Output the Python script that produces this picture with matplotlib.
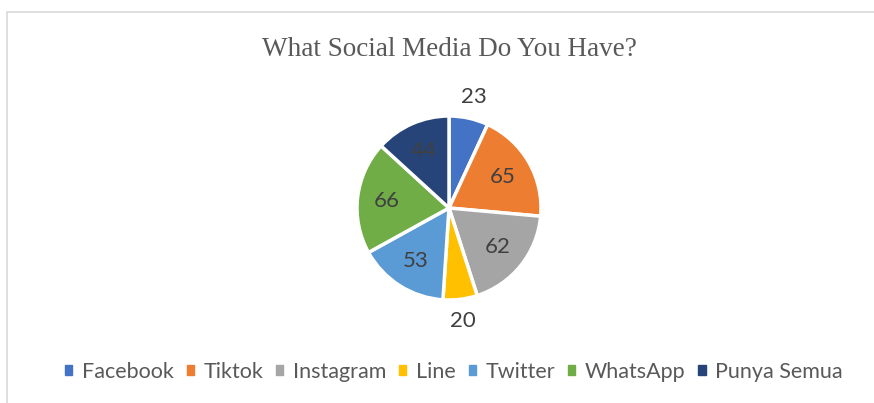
import numpy as np
import matplotlib.pyplot as plt
from matplotlib.patches import Rectangle

categories = ["Facebook", "Tiktok", "Instagram", "Line", "Twitter", "WhatsApp", "Punya Semua"]
values = [23, 65, 62, 20, 53, 66, 44]
colors = ["#4472C4", "#ED7D31", "#A5A5A5", "#FFC000", "#5B9BD5", "#70AD47", "#264478"]
outside = [True, False, False, True, False, False, False]

W, H = 874, 403
fig = plt.figure(figsize=(W / 100, H / 100), dpi=100)

# chart frame
fig.patches.append(Rectangle((7 / W, -0.1), 1.2, (H - 12) / H + 0.1, transform=fig.transFigure,
                             fill=False, edgecolor="#D9D9D9", linewidth=1.2))

cx, cy, R, box = 449, 208, 92, 300
ax = fig.add_axes([(cx - box / 2) / W, (H - cy - box / 2) / H, box / W, box / H])
lim = box / 2 / R
wedges, _ = ax.pie(values, colors=colors, startangle=90, counterclock=False, radius=1,
                   wedgeprops=dict(edgecolor="white", linewidth=2.5))
ax.set_xlim(-lim, lim)
ax.set_ylim(-lim, lim)
ax.set_aspect("equal")
ax.axis("off")

for w, v, out in zip(wedges, values, outside):
    ang = np.deg2rad((w.theta1 + w.theta2) / 2)
    r = 1.24 if out else 0.68
    ax.text(r * np.cos(ang), r * np.sin(ang), str(v), ha="center", va="center",
            fontsize=16, color="#404040", family="Lato")

fig.text(449 / W, 1 - 50 / H, "What Social Media Do You Have?", ha="center", va="center",
         fontsize=19.5, color="#595959", family="Liberation Serif")

handles = [Rectangle((0, 0), 1, 1, color=c) for c in colors]
fig.legend(handles, categories, loc="center", bbox_to_anchor=(454 / W, 1 - 372 / H), ncol=7,
           frameon=False, handlelength=0.33, handleheight=0.33, handletextpad=0.45, columnspacing=0.6,
           prop=dict(family="Lato", size=15.5), labelcolor="#595959")

fig.savefig("out.png", dpi=100)
